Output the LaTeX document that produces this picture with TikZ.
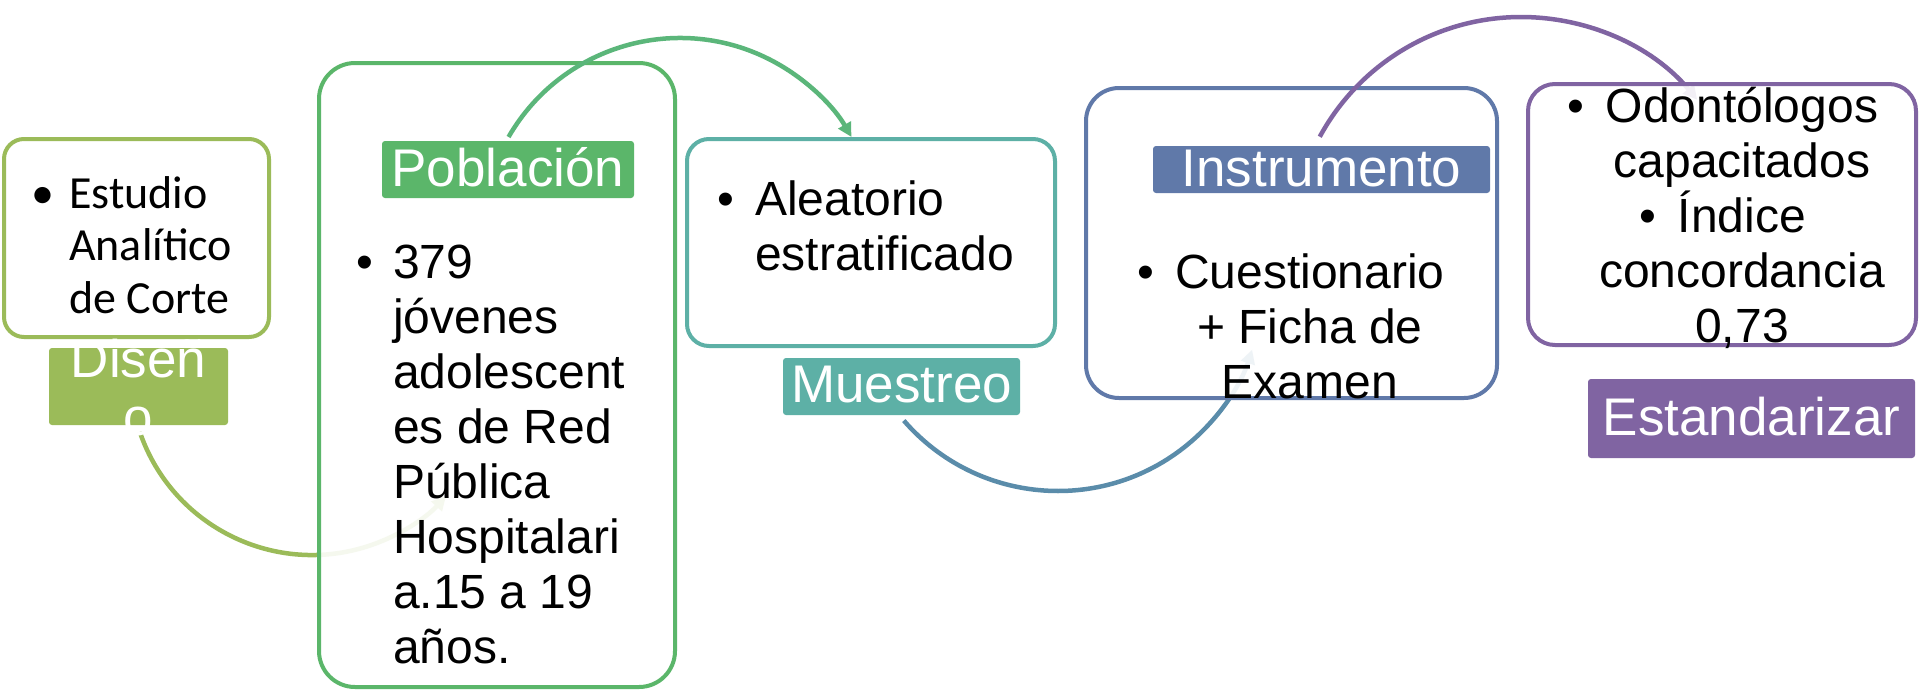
\documentclass[tikz,border=0pt]{standalone}
\usepackage{fontspec}
\setmainfont{Liberation Sans}
\newfontfamily\calibri{Carlito}
\usetikzlibrary{arrows.meta}
\definecolor{cA}{HTML}{9BBB59}
\definecolor{cB}{HTML}{5BB66A}
\definecolor{cC}{HTML}{5DB0A6}
\definecolor{cD}{HTML}{6079A9}
\definecolor{cE}{HTML}{8064A2}
\definecolor{arcB}{HTML}{5BB67A}
\definecolor{arcC}{HTML}{5A8CAA}
\newcommand\leftlines[1]{\vtop{\halign{##\hfil\cr#1\crcr}}}
\newcommand\centerlines[1]{\vtop{\halign{\hfil##\hfil\cr#1\crcr}}}
\newcommand\bul[1]{\llap{\textbullet\hspace{#1pt}}}
\tikzset{
  box/.style n args={2}{draw=#1, line width=4pt, fill=white, fill opacity=0.9,
    rounded corners=#2pt, inner sep=0pt},
  lab/.style={fill=#1, text=white, rounded corners=3pt, inner sep=0pt, anchor=base,
    font={\fontsize{53}{58}\selectfont}},
  body/.style={inner sep=0pt, text=black, font={\fontsize{48}{55}\selectfont}},
  conn/.style={line width=4.5pt, -{Triangle[length=14pt,width=14pt]}},
}
\begin{document}
\begin{tikzpicture}[x=1pt,y=-1pt]
\useasboundingbox (0,0) rectangle (1920,691);
\fill[white] (0,0) rectangle (1920,691);

% circle centres of the connectors
\coordinate (o1) at (312,373);
\coordinate (o2) at (680,236);
\coordinate (o3) at (1058,287);
\coordinate (o4) at (1521,246);

% boxes and connectors, back to front
\node[box={cA}{20}, minimum width=265pt, minimum height=198pt] (b1) at (136.5,238) {};
\draw[conn, draw=cA] ([shift={(161.1:182)}]o1) arc[start angle=161.1, end angle=42.6, radius=182];
\node[box={cB}{36}, minimum width=356pt, minimum height=624pt] (b2) at (497,375) {};
\draw[conn, draw=arcB] ([shift={(210:198)}]o2) arc[start angle=210, end angle=330, radius=198];
\node[box={cC}{22}, minimum width=368pt, minimum height=207pt] (b3) at (871,242.5) {};
\draw[conn, draw=arcC] ([shift={(139.1:204)}]o3) arc[start angle=139.1, end angle=17.9, radius=204];
\node[box={cD}{33}, minimum width=411pt, minimum height=310pt] (b4) at (1291.5,243) {};
\draw[conn, draw=cE] ([shift={(208.5:229)}]o4) arc[start angle=208.5, end angle=320.3, radius=229];
\node[box={cE}{27}, minimum width=388pt, minimum height=261pt] (b5) at (1722,214.5) {};

% labels
\node[lab=cA, minimum width=179pt, text height=29pt, text depth=48pt] (l1) at (138.5,377) {\centerlines{Diseñ\cr o}};
\node[lab=cB, minimum width=252pt, text height=45pt, text depth=12pt] (l2) at (508,186) {Población};
\node[lab=cC, minimum width=237pt, text height=44pt, text depth=13pt] (l3) at (901.5,402) {Muestreo};
\node[lab=cD, minimum width=337pt, text height=40pt, text depth=7pt] (l4) at (1321.5,186) {Instrumento};
\node[lab=cE, minimum width=327pt, text height=56pt, text depth=23pt] (l5) at (1751.5,435) {Estandarizar};

% box texts
\node[body, anchor=base west, font={\calibri\fontsize{46}{52.5}\selectfont}] (t1) at (69,208)
  {\leftlines{\bul{15}Estudio\cr Analítico\cr de Corte}};
\node[body, anchor=base west] (t2) at (393,278)
  {\leftlines{\bul{20}379\cr jóvenes\cr adolescent\cr es de Red\cr Pública\cr Hospitalari\cr a.15 a 19\cr años.}};
\node[body, anchor=base west] (t3) at (755,215)
  {\leftlines{\bul{21}Aleatorio\cr estratificado}};
\node[body, anchor=base] (t4) at (1310,288)
  {\centerlines{\bul{21}Cuestionario\cr + Ficha de\cr Examen}};
\node[body, anchor=base] (t5) at (1742,122)
  {\centerlines{\bul{22}Odontólogos\cr capacitados\cr \bul{22}Índice\cr concordancia\cr 0,73}};
\end{tikzpicture}
\end{document}
